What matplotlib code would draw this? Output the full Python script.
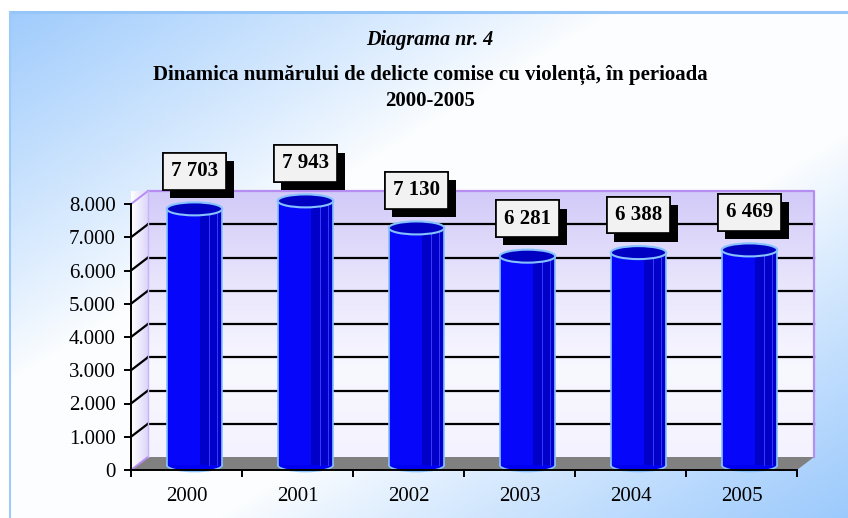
import numpy as np
import matplotlib
matplotlib.use("Agg")
import matplotlib.pyplot as plt
from matplotlib.patches import Polygon, Ellipse
from matplotlib import patheffects
from matplotlib.colors import LinearSegmentedColormap

# ---- data ----
years = ["2000", "2001", "2002", "2003", "2004", "2005"]
values = [7703, 7943, 7130, 6281, 6388, 6469]
value_labels = ["7 703", "7 943", "7 130", "6 281", "6 388", "6 469"]
yticks = [0, 1000, 2000, 3000, 4000, 5000, 6000, 7000, 8000]
ytick_labels = ["0", "1.000", "2.000", "3.000", "4.000", "5.000", "6.000", "7.000", "8.000"]
title1 = "Diagrama nr. 4"
title2 = "Dinamica numărului de delicte comise cu violență, în perioada\n2000-2005"

W, H, DPI = 848, 518, 100
plt.rcParams['font.family'] = ['Liberation Serif', 'DejaVu Serif']

fig = plt.figure(figsize=(W / DPI, H / DPI), dpi=DPI)
fig.patch.set_facecolor('white')

# ---- background gradient ----
bg = fig.add_axes([0, 0, 1, 1], zorder=-10)
bg.set_xlim(0, W); bg.set_ylim(H, 0); bg.axis('off')
yy, xx = np.mgrid[0:H, 0:W]
t = (xx / W + yy / H) / 2.0
w = np.clip((np.abs(t - 0.5) * 2 - 0.25) / 0.75, 0, 1) ** 0.9
blue = np.array([0.61, 0.79, 0.99])
white = np.array([0.99, 0.995, 1.0])
img = white[None, None, :] * (1 - w[..., None]) + blue[None, None, :] * w[..., None]
bx0, by0 = 10, 12
bg.imshow(img[by0:, bx0:], extent=(bx0, W, H, by0), aspect='auto', interpolation='bilinear')
bg.plot([bx0, W], [by0, by0], color='#96c6f8', lw=2.2)
bg.plot([bx0, bx0], [by0, H], color='#9ccafa', lw=1.5)

# ---- main axes ----
x0px, x1px, y0px, y8px = 131, 797, 470, 204
ax = fig.add_axes([x0px / W, (H - y0px) / H, (x1px - x0px) / W, (y0px - y8px) / H])
ax.set_xlim(0, len(years))
ax.set_ylim(0, 8000)
ax.patch.set_alpha(0)

pxx = (x1px - x0px) / len(years)      # px per category unit
pxy = (y0px - y8px) / 8000.0          # px per value unit
DX, DY = 17 / pxx, 13 / pxy           # depth offset
BX, BY = 8 / pxx, 5 / pxy             # bar offset
ELL = 13 / pxy                        # ellipse height in data

n = len(years)
# back wall gradient
wall_cmap = LinearSegmentedColormap.from_list('w', ['#f4f2fe', '#f8f8ff', '#e8e4fc', '#d2caf8'])
grad = np.linspace(0, 1, 256)[:, None]
ax.imshow(grad, extent=(DX, n + DX, DY, 8000 + DY), origin='lower', cmap=wall_cmap,
          aspect='auto', zorder=0, clip_on=False)
# side wall
side_cmap = LinearSegmentedColormap.from_list('s', ['#ffffff', '#dcd6fa'])
sgrad = np.linspace(0, 1, 64)[None, :]
im = ax.imshow(sgrad, extent=(0, DX, 0, 8000 + DY), cmap=side_cmap, aspect='auto',
               zorder=0, clip_on=False)
side = Polygon([(0, 0), (DX, DY), (DX, 8000 + DY), (0, 8000)], closed=True,
               transform=ax.transData, facecolor='none', edgecolor='none')
ax.add_patch(side)
im.set_clip_path(side)
# floor
ax.add_patch(Polygon([(0, 0), (n, 0), (n + DX, DY), (DX, DY)], closed=True,
                     facecolor='#808080', edgecolor='none', zorder=1, clip_on=False))
# gridlines
for v in yticks[1:-1]:
    ax.plot([DX, n + DX], [v + DY, v + DY], color='black', lw=1.6, zorder=1, clip_on=False)
    ax.plot([0, DX], [v, v + DY], color='black', lw=1.6, zorder=1, clip_on=False)
purple = '#b68ef2'
ax.plot([0, DX], [8000, 8000 + DY], color=purple, lw=1.4, zorder=1, clip_on=False)
ax.plot([0, DX], [0, DY], color=purple, lw=1.4, zorder=1, clip_on=False)
ax.plot([DX, n + DX, n + DX], [8000 + DY, 8000 + DY, DY], color=purple, lw=1.6, zorder=1, clip_on=False)
ax.plot([DX, DX], [DY, 8000 + DY], color='#c8b4f6', lw=1.0, zorder=1, clip_on=False)

# ---- bars (cylinders) ----
xs = np.arange(n) + 0.5 + BX
bw = 0.5
edge = '#86c2ff'
for x, v in zip(xs, values):
    ax.add_patch(Ellipse((x, BY), bw, ELL, facecolor='#0000f0', edgecolor=edge, lw=1.2,
                         zorder=2, clip_on=False))
ax.bar(xs, values, bottom=BY, width=bw, color='#0606fa', edgecolor='none', zorder=3, clip_on=False)
ax.bar(xs + bw * 0.3, values, bottom=BY, width=bw * 0.4, color='#0000c8', edgecolor='none',
       zorder=3, clip_on=False)
for x, v in zip(xs, values):
    for f in (0.13, 0.2):
        ax.plot([x + f, x + f], [BY, v + BY], color='#3a3aff', lw=0.7, zorder=3, clip_on=False)
    ax.plot([x - bw / 2, x - bw / 2], [BY, v + BY], color=edge, lw=1.2, zorder=3, clip_on=False)
    ax.plot([x + bw / 2, x + bw / 2], [BY, v + BY], color=edge, lw=1.2, zorder=3, clip_on=False)
    ax.add_patch(Ellipse((x, v + BY), bw, ELL, facecolor='#0000c2', edgecolor=edge, lw=1.5,
                         zorder=4, clip_on=False))

# ---- value label boxes ----
for x, v, lab in zip(xs, values, value_labels):
    t_ = ax.annotate(lab, (x, v + BY), xytext=(0, 27), textcoords='offset points',
                     ha='center', va='center', fontsize=15, fontweight='bold', zorder=6,
                     bbox=dict(boxstyle='square,pad=0.4', fc='#f2f2f2', ec='black', lw=1.2),
                     annotation_clip=False)
    t_.get_bbox_patch().set_path_effects([
        patheffects.withSimplePatchShadow(offset=(5.5, -6), shadow_rgbFace='black', alpha=1.0),
        patheffects.Normal()])

# ---- axes styling ----
for s in ['top', 'right']:
    ax.spines[s].set_visible(False)
for s in ['left', 'bottom']:
    ax.spines[s].set_color('black')
    ax.spines[s].set_linewidth(1.4)
    ax.spines[s].set_zorder(5)
ax.set_yticks(yticks)
ax.set_yticklabels(ytick_labels)
ax.tick_params(axis='y', direction='out', length=5, width=1.4, pad=6, labelsize=15)
ax.set_xticks(np.arange(n) + 0.5)
ax.set_xticklabels(years)
ax.set_xticks(np.arange(n + 1), minor=True)
ax.tick_params(axis='x', which='major', length=0, pad=12, labelsize=15)
ax.tick_params(axis='x', which='minor', direction='out', length=5, width=1.4)

# ---- titles ----
fig.text(430 / W, 1 - 40 / H, title1, ha='center', va='center', fontsize=14.5,
         fontweight='bold', fontstyle='italic')
fig.text(430 / W, 1 - 88 / H, title2, ha='center', va='center', fontsize=15,
         fontweight='bold', linespacing=1.35)

fig.savefig('out.png', dpi=DPI)
